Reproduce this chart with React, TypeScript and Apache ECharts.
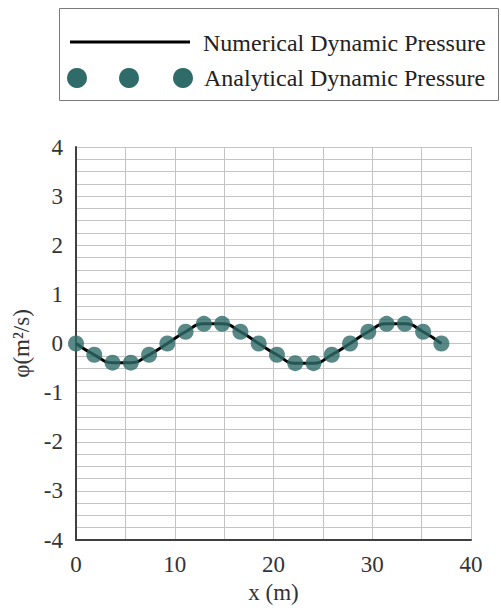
import React, { useEffect, useRef } from "react";
import * as echarts from "echarts";

const xValues = [0, 1.85, 3.7, 5.55, 7.4, 9.25, 11.1, 12.95, 14.8, 16.65, 18.5, 20.35, 22.2, 24.05, 25.9, 27.75, 29.6, 31.45, 33.3, 35.15, 37];
const numericalValues = [0, -0.23, -0.39, -0.39, -0.23, 0, 0.24, 0.4, 0.4, 0.24, 0, -0.23, -0.4, -0.4, -0.23, 0, 0.24, 0.4, 0.4, 0.24, 0];
const analyticalValues = [0, -0.23, -0.39, -0.39, -0.23, 0, 0.24, 0.4, 0.4, 0.24, 0, -0.23, -0.4, -0.4, -0.23, 0, 0.24, 0.4, 0.4, 0.24, 0];
const seriesNames = ["Numerical Dynamic Pressure", "Analytical Dynamic Pressure"];
const xAxisName = "x (m)";
const yAxisName = "φ(m²/s)";

const FONT = "'Liberation Serif', 'Times New Roman', serif";
const MARKER = "#2f6b69";

export default function App() {
  const ref = useRef<HTMLDivElement>(null);
  useEffect(() => {
    if (!ref.current) return;
    const chart = echarts.init(ref.current, null, { renderer: "svg" });
    const gridLine = { show: true, lineStyle: { color: "#c4c4c4", width: 1 } };
    const labelStyle = { fontFamily: FONT, fontSize: 23, color: "#333" };
    chart.setOption({
      animation: false,
      backgroundColor: "#ffffff",
      textStyle: { fontFamily: FONT },
      grid: { left: 76, right: 30, top: 147, bottom: 71, containLabel: false },
      xAxis: {
        type: "value",
        min: 0,
        max: 40,
        interval: 10,
        name: xAxisName,
        nameLocation: "middle",
        nameGap: 41,
        nameTextStyle: labelStyle,
        axisLine: { show: true, onZero: false, lineStyle: { color: "#404040", width: 2 } },
        axisTick: { show: false },
        axisLabel: { ...labelStyle, margin: 13 },
        splitLine: gridLine,
        minorTick: { show: false, splitNumber: 2 },
        minorSplitLine: gridLine,
      },
      yAxis: {
        type: "value",
        min: -4,
        max: 4,
        interval: 1,
        name: yAxisName,
        nameLocation: "middle",
        nameGap: 29,
        nameTextStyle: labelStyle,
        axisLine: { show: true, onZero: false, lineStyle: { color: "#404040", width: 2 } },
        axisTick: { show: false },
        axisLabel: { ...labelStyle, margin: 13 },
        splitLine: gridLine,
        minorTick: { show: false, splitNumber: 4 },
        minorSplitLine: gridLine,
      },
      series: [
        {
          name: seriesNames[0],
          type: "line",
          data: xValues.map((x, i) => [x, numericalValues[i]]),
          smooth: true,
          symbol: "none",
          lineStyle: { color: "#000", width: 3 },
          z: 2,
        },
        {
          name: seriesNames[1],
          type: "scatter",
          data: xValues.map((x, i) => [x, analyticalValues[i]]),
          symbol: "circle",
          symbolSize: 16,
          itemStyle: { color: MARKER },
          z: 3,
        },
      ],
      graphic: [
        {
          type: "rect",
          shape: { x: 59.5, y: 8.5, width: 439, height: 92 },
          style: { fill: "#fff", stroke: "#7a7a7a", lineWidth: 1 },
        },
        {
          type: "line",
          shape: { x1: 70, y1: 42, x2: 190, y2: 42 },
          style: { stroke: "#000", lineWidth: 3 },
        },
        {
          type: "text",
          x: 203,
          y: 43,
          style: { text: seriesNames[0], fontFamily: FONT, fontSize: 24, fill: "#222", verticalAlign: "middle" },
        },
        { type: "circle", shape: { cx: 77, cy: 78, r: 10 }, style: { fill: MARKER } },
        { type: "circle", shape: { cx: 129, cy: 78, r: 10 }, style: { fill: MARKER } },
        { type: "circle", shape: { cx: 183, cy: 78, r: 10 }, style: { fill: MARKER } },
        {
          type: "text",
          x: 204,
          y: 78,
          style: { text: seriesNames[1], fontFamily: FONT, fontSize: 24, fill: "#222", verticalAlign: "middle" },
        },
      ],
    });
    return () => chart.dispose();
  }, []);
  return <div ref={ref} style={{ width: 501, height: 611, position: "absolute", left: 0, top: 0 }} />;
}
